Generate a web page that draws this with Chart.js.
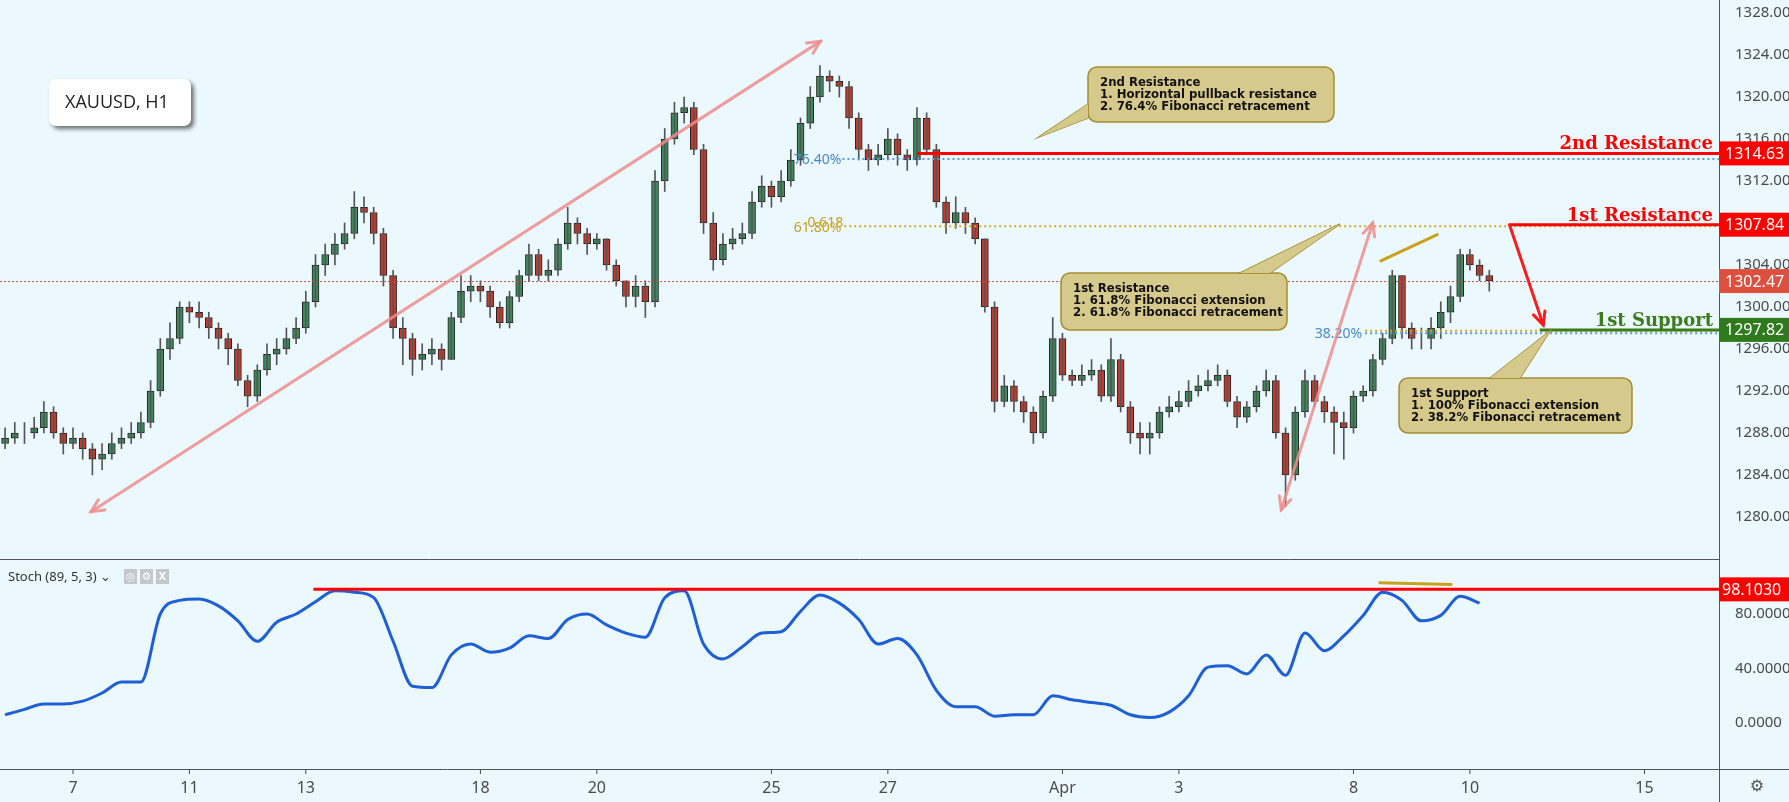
<!DOCTYPE html>
<html>
<head>
<meta charset="utf-8">
<script src="https://cdn.jsdelivr.net/npm/chart.js@4.4.1/dist/chart.umd.min.js"></script>
<style>
  html, body { margin: 0; padding: 0; background: #ebf9fe; overflow: hidden; }
  canvas { display: block; position: absolute; left: 0; }
  #priceChart { top: 0; }
  #stochChart { top: 559px; }
</style>
</head>
<body>
<canvas id="priceChart" width="1789" height="559" style="width:1789px;height:559px"></canvas>
<canvas id="stochChart" width="1789" height="243" style="width:1789px;height:243px"></canvas>
<script>
// XAUUSD, 4h candles; x is trading-day index (0 = Mar 5)
const firstCandle = 0.75;
const candleStep = 1 / 6;
const firstOpen = 1287;

const closes = [
  1287.5, 1288,
  1288, 1288.5, 1290, 1288, 1287, 1287.5,
  1286.5, 1285.5, 1286, 1287, 1287.5, 1288,
  1289, 1292, 1296, 1297, 1300, 1299.5,
  1299, 1298, 1297, 1296, 1293, 1291.5,
  1294, 1295.5, 1296, 1297, 1298, 1300.5,
  1304, 1305, 1306, 1307, 1309.5, 1309,
  1307, 1303, 1298, 1297, 1295, 1295.5,
  1296, 1295, 1299, 1301.5, 1302, 1301.5,
  1300, 1298.5, 1301, 1303, 1305, 1303,
  1303.5, 1306, 1308, 1307, 1306, 1306.5,
  1304, 1302.5, 1301, 1302, 1300.5, 1312,
  1316, 1318.5, 1319, 1315, 1308, 1304.5,
  1306, 1306.5, 1307, 1310, 1311.5, 1310.5,
  1312, 1314, 1317.5, 1320, 1322, 1321.5,
  1321, 1318, 1315, 1314, 1314.5, 1316,
  1314.5, 1314, 1318, 1315, 1310, 1308,
  1309, 1308, 1306.5, 1300, 1291, 1292.5,
  1291, 1290, 1288, 1291.5, 1297, 1293.5,
  1293, 1293.5, 1294, 1291.5, 1295, 1290.5,
  1288, 1287.5, 1288, 1290, 1290.5, 1291,
  1292, 1292.5, 1293, 1293.5, 1291, 1289.5,
  1290.5, 1292, 1293, 1288, 1284, 1290,
  1293, 1291, 1290, 1289, 1288.5, 1291.5,
  1292, 1295, 1297, 1303, 1298, 1297,
  1297, 1298, 1299.5, 1301, 1305, 1304,
  1303, 1302.5
];
const highs = [
  1288.5, 1289,
  1289, 1289.5, 1291, 1290.5, 1288.5, 1288.5,
  1288, 1287, 1287, 1288, 1288.5, 1289,
  1290, 1293, 1297, 1298.5, 1300.5, 1300.5,
  1300.5, 1299.5, 1298.5, 1297.5, 1296.5, 1293.5,
  1294.5, 1296.5, 1297, 1298, 1299, 1301.5,
  1305, 1306, 1307, 1308, 1311, 1310.5,
  1309.5, 1307.5, 1303.5, 1299, 1297.5, 1296.5,
  1297, 1296.5, 1299.5, 1303, 1303, 1302.5,
  1302, 1300.5, 1301.5, 1303.5, 1306, 1305.5,
  1304.5, 1306.5, 1309.5, 1308.5, 1307.5, 1307,
  1306.5, 1304.5, 1302.5, 1303, 1302.5, 1313,
  1317, 1319.5, 1320, 1319.5, 1315.5, 1309,
  1307, 1307.5, 1308, 1311, 1312.5, 1312,
  1313, 1315, 1318, 1321, 1323, 1322.5,
  1322, 1321.5, 1318.5, 1315.5, 1315.5, 1317,
  1316.5, 1315, 1319, 1318.5, 1315.5, 1310.5,
  1310.5, 1309.5, 1308.5, 1306.5, 1300.5, 1293.5,
  1293, 1291.5, 1290.5, 1292, 1299, 1297.5,
  1294, 1294.5, 1295, 1294.5, 1297, 1295.5,
  1291, 1289, 1289, 1290.5, 1291.5, 1292,
  1293, 1293.5, 1294, 1294.5, 1294, 1291.5,
  1291, 1292.5, 1294, 1293.5, 1288.5, 1290.5,
  1294, 1293.5, 1291.5, 1290.5, 1290, 1292,
  1292.5, 1295.5, 1297.5, 1303.5, 1303, 1298.5,
  1298, 1299, 1300.5, 1302, 1305.5, 1305.5,
  1304.5, 1303.5
];
const lows = [
  1286.5, 1287,
  1287, 1287.5, 1288, 1287.5, 1286, 1286.5,
  1285.5, 1284, 1284.5, 1285.5, 1286.5, 1287,
  1287.5, 1288.5, 1291.5, 1295, 1296.5, 1298.5,
  1298, 1297, 1296, 1294.5, 1292.5, 1290.5,
  1291, 1293.5, 1294.5, 1295.5, 1296.5, 1297.5,
  1300, 1303, 1304, 1305.5, 1306.5, 1308,
  1306, 1302, 1297, 1294.5, 1293.5, 1294,
  1294.5, 1294, 1295, 1298.5, 1300.5, 1300.5,
  1299, 1298, 1298, 1300.5, 1302.5, 1302.5,
  1302.5, 1303, 1305.5, 1306, 1305, 1305.5,
  1303.5, 1302, 1300, 1300, 1299, 1300,
  1311, 1315.5, 1317.5, 1314.5, 1307, 1303.5,
  1304, 1305.5, 1306, 1306.5, 1309.5, 1309.5,
  1310, 1311.5, 1313.5, 1317, 1319.5, 1320.5,
  1320, 1317, 1314, 1313, 1313.5, 1314,
  1313.5, 1313, 1313.5, 1314.5, 1309.5, 1307,
  1307.5, 1307, 1306, 1299.5, 1290, 1290.5,
  1290, 1289, 1287, 1287.5, 1291, 1293,
  1292.5, 1292.5, 1293, 1291, 1291, 1290,
  1287, 1286, 1286, 1287.5, 1289.5, 1290,
  1290.5, 1291.5, 1292, 1292.5, 1290.5, 1288.5,
  1289, 1290, 1291.5, 1287.5, 1281, 1283.5,
  1289.5, 1290.5, 1289, 1286, 1285.5, 1288,
  1291, 1291.5, 1294.5, 1296.5, 1297, 1296,
  1296, 1296, 1297, 1298.5, 1300.5, 1303.5,
  1302.5, 1301.5
];

// Stochastic (89,5,3) %K, one reading every 8 hours
const stochStep = 1 / 3;
const stochValues = [
  6, 10, 14, 14, 16, 22, 30, 30, 80, 90, 91, 86, 75, 60, 74, 80, 89, 97, 96, 92,
  60, 27, 26, 50, 58, 52, 55, 64, 62, 76, 80, 72, 66, 63, 92, 97, 58, 47, 56, 66,
  67, 82, 94, 88, 76, 58, 62, 50, 24, 12, 12, 5, 6, 6, 20, 17, 15, 13, 6, 4,
  8, 20, 41, 42, 36, 50, 35, 66, 53, 64, 79, 96, 90, 75, 79, 93, 88
];

// date axis
const dayTicks = [2, 4, 6, 9, 11, 14, 16, 19, 21, 24, 26, 29];
const dayLabels = ['7', '11', '13', '18', '20', '25', '27', 'Apr', '3', '8', '10', '15'];
const priceTicks = [1280, 1284, 1288, 1292, 1296, 1300, 1304, 1308, 1312, 1316, 1320, 1324, 1328];
const stochTicks = [0, 40, 80];

// levels
const resistance2 = 1314.63;
const resistance1 = 1307.84;
const support1 = 1297.82;
const lastPrice = 1302.47;
const stochLevel = 98.1030;

const xMin = 0.746, xMax = 30.28;
const FONT = '"Noto Sans", "DejaVu Sans", sans-serif';

const opens = closes.map((c, i) => i === 0 ? firstOpen : closes[i - 1]);
const xs = closes.map((c, i) => firstCandle + candleStep * (i + 0.5));
const upColor = '#3c8a5c', downColor = '#c8392b';

// fixed axis width, and no extra padding for the end tick labels
function fixedWidth(scale) {
  scale.width = 70;
  scale.paddingTop = 0;
  scale.paddingBottom = 0;
}

// ====== Annotation plugin for price panel ======
const priceNotes = {
  id: 'priceNotes',
  afterDatasetsDraw(chart) {
    const { ctx, chartArea } = chart;
    const X = v => chart.scales.x.getPixelForValue(v);
    const Y = v => chart.scales.y.getPixelForValue(v);
    const R = chartArea.right;
    ctx.save();

    // current price dotted
    ctx.strokeStyle = '#d9423a'; ctx.lineWidth = 1; ctx.setLineDash([2, 2]);
    ctx.beginPath(); ctx.moveTo(0, Y(lastPrice) + 0.5); ctx.lineTo(R, Y(lastPrice) + 0.5); ctx.stroke();

    // fib dotted lines
    ctx.lineWidth = 2; ctx.setLineDash([2, 3]);
    ctx.strokeStyle = '#5a9be0';
    ctx.beginPath(); ctx.moveTo(X(15.22), Y(1314.1)); ctx.lineTo(R, Y(1314.1)); ctx.stroke();
    ctx.beginPath(); ctx.moveTo(X(24.2), Y(1297.5)); ctx.lineTo(R, Y(1297.5)); ctx.stroke();
    ctx.strokeStyle = '#d4aa1e';
    ctx.beginPath(); ctx.moveTo(X(15.25), Y(1307.7)); ctx.lineTo(R, Y(1307.7)); ctx.stroke();
    ctx.beginPath(); ctx.moveTo(X(24.2), Y(1297.75)); ctx.lineTo(R, Y(1297.75)); ctx.stroke();
    ctx.setLineDash([]);

    ctx.font = '14px ' + FONT; ctx.textBaseline = 'middle'; ctx.textAlign = 'right';
    ctx.fillStyle = '#4a88cc';
    ctx.fillText('76.40%', X(15.2), Y(1314.0));
    ctx.fillText('38.20%', X(24.15), Y(1297.4));
    ctx.fillStyle = '#c9a11c';
    ctx.fillText('61.80%', X(15.2), Y(1307.5));
    ctx.fillText('0.618', X(15.2) + 2, Y(1308.0));

    // level lines
    ctx.lineWidth = 3;
    ctx.strokeStyle = '#ff0000';
    ctx.beginPath(); ctx.moveTo(X(16.5), Y(resistance2)); ctx.lineTo(R, Y(resistance2)); ctx.stroke();
    ctx.beginPath(); ctx.moveTo(X(26.68), Y(resistance1)); ctx.lineTo(R, Y(resistance1)); ctx.stroke();
    ctx.strokeStyle = '#3a7d1a';
    ctx.beginPath(); ctx.moveTo(X(27.2), Y(support1)); ctx.lineTo(R, Y(support1)); ctx.stroke();

    ctx.font = 'bold 18px "DejaVu Serif", serif'; ctx.textAlign = 'right'; ctx.textBaseline = 'alphabetic';
    ctx.fillStyle = '#ff0000';
    ctx.fillText('2nd Resistance', R - 6, Y(resistance2) - 4);
    ctx.fillText('1st Resistance', R - 6, Y(resistance1) - 4);
    ctx.fillStyle = '#3a7d1a';
    ctx.fillText('1st Support', R - 6, Y(support1) - 4);

    // arrows
    function arrow(x1, y1, x2, y2, color, w, both) {
      ctx.strokeStyle = color; ctx.lineWidth = w; ctx.lineCap = 'round';
      ctx.beginPath(); ctx.moveTo(x1, y1); ctx.lineTo(x2, y2); ctx.stroke();
      const head = (ax, ay, bx, by) => {
        const a = Math.atan2(by - ay, bx - ax), L = 14;
        ctx.beginPath();
        ctx.moveTo(bx - L * Math.cos(a - 0.45), by - L * Math.sin(a - 0.45));
        ctx.lineTo(bx, by);
        ctx.lineTo(bx - L * Math.cos(a + 0.45), by - L * Math.sin(a + 0.45));
        ctx.stroke();
      };
      head(x1, y1, x2, y2);
      if (both) head(x2, y2, x1, y1);
    }
    arrow(X(2.31), Y(1280.5), X(14.84), Y(1325.3), 'rgba(240,140,140,0.85)', 3, true);
    arrow(X(22.76), Y(1280.7), X(24.33), Y(1308.0), 'rgba(240,140,140,0.85)', 3, true);
    arrow(X(26.68), Y(resistance1), X(27.26), Y(1298.3), '#ff1a1a', 3, false);

    // divergence line
    ctx.strokeStyle = '#c9a11c'; ctx.lineWidth = 3;
    ctx.beginPath(); ctx.moveTo(X(24.47), Y(1304.4)); ctx.lineTo(X(25.44), Y(1306.9)); ctx.stroke();

    // callouts
    function callout(x, y, w, h, tipX, tipY, baseA, baseB, lines) {
      ctx.fillStyle = '#d5c98b'; ctx.strokeStyle = '#a58d32'; ctx.lineWidth = 1.5;
      ctx.beginPath();
      ctx.roundRect(x, y, w, h, 9);
      ctx.fill(); ctx.stroke();
      ctx.beginPath();
      ctx.moveTo(baseA[0], baseA[1]); ctx.lineTo(tipX, tipY); ctx.lineTo(baseB[0], baseB[1]);
      ctx.closePath(); ctx.fill(); ctx.stroke();
      ctx.fillStyle = '#d5c98b';
      ctx.beginPath(); ctx.moveTo(baseA[0], baseA[1]); ctx.lineTo(baseB[0], baseB[1]); ctx.lineTo(tipX, tipY); ctx.fill();
      ctx.fillStyle = '#111'; ctx.font = 'bold 13px "DejaVu Sans Condensed", "DejaVu Sans", sans-serif';
      ctx.textAlign = 'left'; ctx.textBaseline = 'middle';
      lines.forEach((t, i) => ctx.fillText(t, x + 12, y + 16 + i * 12));
    }
    callout(1088, 67, 246, 55, 1039, 137, [1088, 104], [1088, 118],
      ['2nd Resistance', '1. Horizontal pullback resistance', '2. 76.4% Fibonacci retracement']);
    callout(1061, 273, 226, 57, 1340, 224, [1240, 273], [1270, 273],
      ['1st Resistance', '1. 61.8% Fibonacci extension', '2. 61.8% Fibonacci retracement']);
    callout(1399, 378, 233, 55, 1550, 331, [1490, 378], [1520, 378],
      ['1st Support', '1. 100% Fibonacci extension', '2. 38.2% Fibonacci retracement']);

    // symbol box
    ctx.shadowColor = 'rgba(0,0,0,0.55)'; ctx.shadowBlur = 4; ctx.shadowOffsetX = 3; ctx.shadowOffsetY = 3;
    ctx.fillStyle = '#ffffff';
    ctx.beginPath(); ctx.roundRect(49, 79, 142, 47, 7); ctx.fill();
    ctx.shadowColor = 'transparent';
    ctx.fillStyle = '#222'; ctx.font = '18px "Open Sans", sans-serif'; ctx.textAlign = 'left';
    ctx.fillText('XAUUSD, H1', 65, 103);

    // axis price tags
    function tag(v, color) {
      const y = Y(v);
      ctx.fillStyle = color; ctx.fillRect(R, y - 12, 1789 - R, 24);
      ctx.fillStyle = '#fff'; ctx.font = '16px ' + FONT; ctx.textAlign = 'left'; ctx.textBaseline = 'middle';
      ctx.fillText(v.toFixed(2), R + 6, y + 1);
    }
    tag(resistance2, '#ff0000');
    tag(resistance1, '#ff0000');
    tag(lastPrice, '#dd5040');
    tag(support1, '#2f7a1c');
    ctx.restore();
  }
};

const stochNotes = {
  id: 'stochNotes',
  afterDatasetsDraw(chart) {
    const { ctx, chartArea } = chart;
    const X = v => chart.scales.x.getPixelForValue(v);
    const Y = v => chart.scales.y.getPixelForValue(v);
    const R = chartArea.right;
    ctx.save();
    ctx.strokeStyle = '#ff0000'; ctx.lineWidth = 3;
    ctx.beginPath(); ctx.moveTo(X(6.13), Y(stochLevel)); ctx.lineTo(R, Y(stochLevel)); ctx.stroke();
    ctx.strokeStyle = '#c9a11c';
    ctx.beginPath(); ctx.moveTo(X(24.43), Y(103)); ctx.lineTo(X(25.7), Y(101.6)); ctx.stroke();
    // top and bottom borders
    ctx.strokeStyle = '#555'; ctx.lineWidth = 1;
    ctx.beginPath(); ctx.moveTo(0, 0.5); ctx.lineTo(R, 0.5); ctx.stroke();
    ctx.beginPath(); ctx.moveTo(0, chartArea.bottom + 0.5); ctx.lineTo(1789, chartArea.bottom + 0.5); ctx.stroke();
    // date labels
    ctx.fillStyle = '#4a4a4a'; ctx.font = '16px ' + FONT; ctx.textAlign = 'center'; ctx.textBaseline = 'middle';
    dayTicks.forEach((d, i) => {
      const x = X(d);
      ctx.fillRect(x - 0.5, chartArea.bottom, 1, 5);
      ctx.fillText(dayLabels[i], x, chartArea.bottom + 19);
    });
    // header
    ctx.fillStyle = '#333'; ctx.font = '13px ' + FONT; ctx.textAlign = 'left'; ctx.textBaseline = 'middle';
    ctx.fillText('Stoch (89, 5, 3) \u2304', 8, 18);
    ctx.fillStyle = '#c3c8cc';
    [124, 140, 156].forEach(x => ctx.fillRect(x, 10, 13, 15));
    ctx.fillStyle = '#fff'; ctx.font = 'bold 11px ' + FONT; ctx.textAlign = 'center';
    ctx.fillText('\u25CE', 130.5, 18); ctx.fillText('\u2699', 146.5, 18); ctx.fillText('X', 162.5, 18);
    // gear in the corner
    ctx.fillStyle = '#555'; ctx.font = '16px "DejaVu Sans", sans-serif';
    ctx.fillText('\u2699', 1757, chartArea.bottom + 18);
    ctx.fillRect(R, chartArea.bottom, 1, 243 - chartArea.bottom);
    // tag
    ctx.fillStyle = '#ff0000'; ctx.fillRect(R, Y(stochLevel) - 12, 1789 - R, 24);
    ctx.fillStyle = '#fff'; ctx.font = '16px ' + FONT; ctx.textAlign = 'left';
    ctx.fillText(stochLevel.toFixed(4), R + 3, Y(stochLevel) + 1);
    ctx.restore();
  }
};

const bg = {
  id: 'bg',
  beforeDraw(chart) {
    const c = chart.ctx;
    c.save(); c.fillStyle = '#ebf9fe'; c.fillRect(0, 0, chart.width, chart.height); c.restore();
  }
};

document.addEventListener('DOMContentLoaded', function() {
  Chart.defaults.font.family = FONT;
  Chart.defaults.animation = false;

  // ====== Price panel ======
  new Chart(document.getElementById('priceChart'), {
    type: 'bar',
    data: {
      datasets: [
        {
          label: 'wick',
          data: xs.map((x, i) => ({ x: x, y: [lows[i], highs[i]] })),
          backgroundColor: '#555',
          barThickness: 1,
          grouped: false
        },
        {
          label: 'body',
          data: xs.map((x, i) => ({ x: x, y: [opens[i], closes[i]] })),
          backgroundColor: closes.map((c, i) => c >= opens[i] ? upColor : downColor),
          borderColor: '#222',
          borderWidth: 1,
          borderSkipped: false,
          barThickness: 7,
          grouped: false
        }
      ]
    },
    options: {
      responsive: false,
      layout: { padding: 0, autoPadding: false },
      plugins: { legend: { display: false }, tooltip: { enabled: false } },
      scales: {
        x: { type: 'linear', min: xMin, max: xMax, offset: false, display: false },
        y: {
          position: 'right', min: 1276.0, max: 1329.24,
          afterFit: fixedWidth,
          afterBuildTicks: s => { s.ticks = priceTicks.map(v => ({ value: v })); },
          grid: { display: false },
          border: { color: '#555' },
          ticks: { color: '#4a4a4a', font: { size: 15 }, padding: 8, callback: v => v.toFixed(2) }
        }
      }
    },
    plugins: [bg, priceNotes]
  });

  // ====== Stochastic panel ======
  new Chart(document.getElementById('stochChart'), {
    type: 'line',
    data: {
      datasets: [{
        data: stochValues.map((v, i) => ({ x: firstCandle + stochStep * i + candleStep / 2, y: v })),
        borderColor: '#1f5fd6',
        borderWidth: 3,
        pointRadius: 0,
        tension: 0.4,
        cubicInterpolationMode: 'monotone'
      }]
    },
    options: {
      responsive: false,
      layout: { padding: { bottom: 33 }, autoPadding: false },
      plugins: { legend: { display: false }, tooltip: { enabled: false } },
      scales: {
        x: { type: 'linear', min: xMin, max: xMax, offset: false, display: false },
        y: {
          position: 'right', min: -33.8, max: 120.4,
          afterFit: fixedWidth,
          afterBuildTicks: s => { s.ticks = stochTicks.map(v => ({ value: v })); },
          grid: { display: false },
          border: { color: '#555' },
          ticks: { color: '#4a4a4a', font: { size: 15 }, padding: 8, callback: v => v.toFixed(4) }
        }
      }
    },
    plugins: [bg, stochNotes]
  });
});
</script>
</body>
</html>
